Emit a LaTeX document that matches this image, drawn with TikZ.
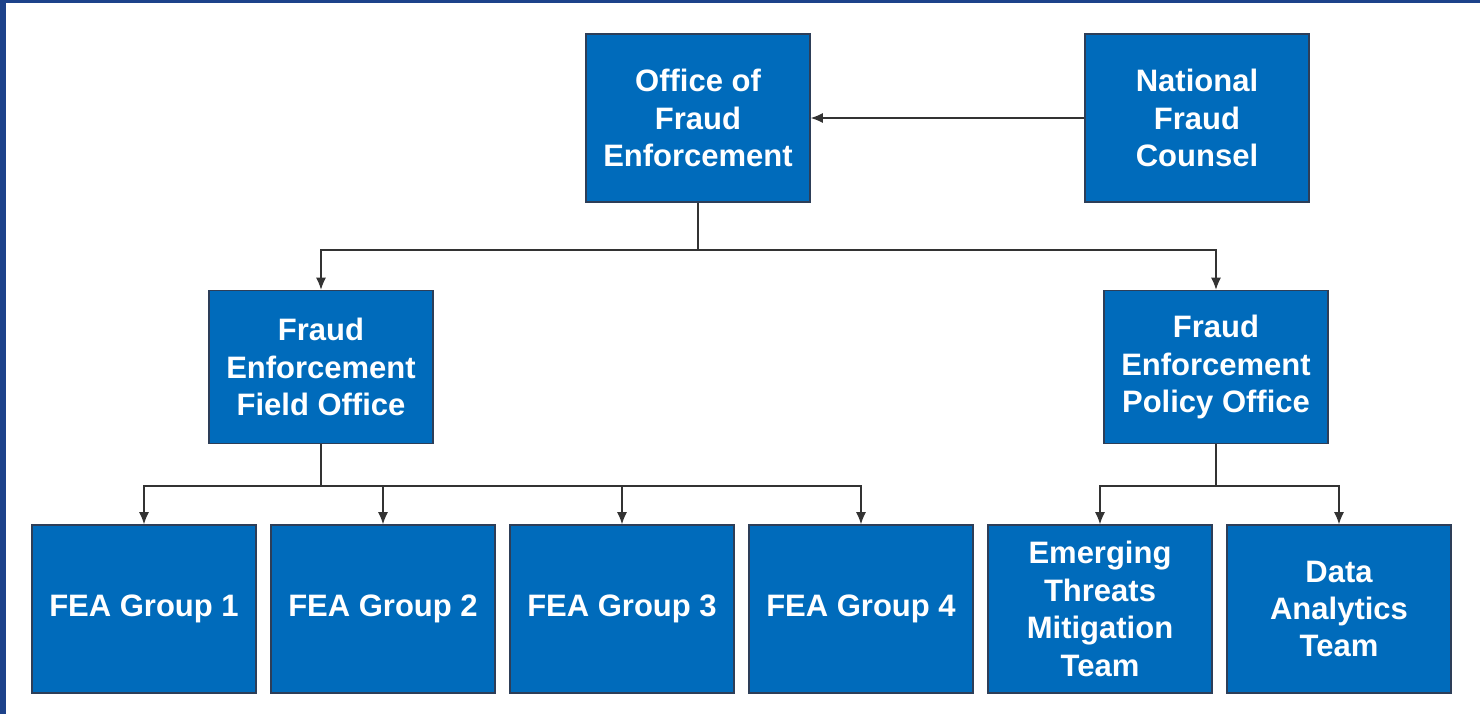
\documentclass[tikz,border=0pt]{standalone}
\usepackage{fontspec}
\setmainfont{Liberation Sans}
\usetikzlibrary{arrows.meta}
\definecolor{boxblue}{RGB}{0,107,187}
\definecolor{boxline}{RGB}{45,62,88}
\definecolor{framebl}{RGB}{29,66,138}
\tikzset{
	unit/.style={draw=boxline, line width=0.8pt, fill=boxblue, text=white, font=\fontsize{15.5}{18.7}\selectfont\bfseries, align=center, minimum width=112pt, minimum height=84pt, inner sep=0pt},
	office/.style={unit, minimum height=76.5pt},
	link/.style={draw=black!80, line width=0.6pt, -{Latex[length=6pt,width=5pt]}}
}
\begin{document}
\begin{tikzpicture}[x=0.5pt,y=-0.5pt]
			\useasboundingbox (0,0) rectangle (1480,714);
			\fill[framebl] (0,0) rectangle (6,714);
			\fill[framebl] (0,0) rectangle (1480,3);
			
			\node	(ofe) at (698,118) [unit] {Office of\\Fraud\\Enforcement};
			\node	(nfc) at (1197,118) [unit] {National\\Fraud\\Counsel};
			\node	(fefo) at (321,367) [office] {Fraud\\Enforcement\\Field Office};
			\node	(fepo) at (1216,367) [office] {Fraud\\Enforcement\\Policy Office};
			\node	(g1) at (144,609) [unit] {FEA Group 1};
			\node	(g2) at (383,609) [unit] {FEA Group 2};
			\node	(g3) at (622,609) [unit] {FEA Group 3};
			\node	(g4) at (861,609) [unit] {FEA Group 4};
			\node	(etmt) at (1100,609) [unit] {Emerging\\Threats\\Mitigation\\Team};
			\node	(dat) at (1339,609) [unit] {Data\\Analytics\\Team};
			
			\coordinate (b1) at (698,250);
			\coordinate (b2) at (321,486);
			\coordinate (b3) at (1216,486);
			
			\draw[link] (nfc) -- (ofe);
			\draw[link,-] (ofe) -- (b1);
			\draw[link] (b1) -| (fefo);
			\draw[link] (b1) -| (fepo);
			\draw[link,-] (fefo) -- (b2);
			\draw[link] (b2) -| (g1);
			\draw[link] (b2) -| (g2);
			\draw[link] (b2) -| (g3);
			\draw[link] (b2) -| (g4);
			\draw[link,-] (fepo) -- (b3);
			\draw[link] (b3) -| (etmt);
			\draw[link] (b3) -| (dat);
		\end{tikzpicture}
\end{document}
